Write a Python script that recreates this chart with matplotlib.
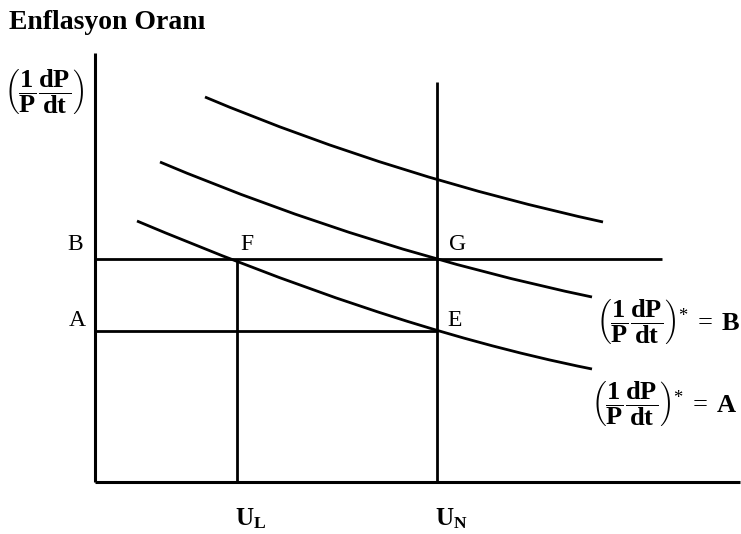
import matplotlib
matplotlib.use("Agg")
import matplotlib.pyplot as plt
from matplotlib.path import Path
from matplotlib.patches import PathPatch

plt.rcParams['mathtext.fontset'] = 'custom'
plt.rcParams['mathtext.rm'] = 'Liberation Serif'
plt.rcParams['mathtext.it'] = 'Liberation Serif:italic'
plt.rcParams['mathtext.bf'] = 'Liberation Serif:bold'
plt.rcParams['font.family'] = ['Liberation Serif', 'DejaVu Serif']

# diagram values (horizontal: unemployment, vertical: inflation)
u_L, u_N = 142, 342
infl_A, infl_B = 151, 223
y_top, x_right = 429, 645
u_N_top = 400
b_line_end = 567

# Phillips curves: end points and slopes at both ends
curve_start_x = [110, 65, 42]
curve_start_y = [385, 320, 261]
curve_end_x = [508, 497, 497]
curve_end_y = [260, 185, 113]
slope_start = [-0.42, -0.42, -0.42]
slope_end = [-0.22, -0.21, -0.20]

frac = r'\left(\dfrac{\mathbf{1}}{\mathbf{P}}\dfrac{\mathbf{dP}}{\mathbf{dt}}\right)'

fig = plt.figure(figsize=(7.41, 5.34), dpi=100)
ax = fig.add_axes([0, 0, 1, 1])
ax.set_xlim(-95, 646)
ax.set_ylim(-52, 482)
ax.axis('off')

lw = 2.0
# axes
ax.plot([0, 0], [0, y_top], color='black', lw=2.2, solid_capstyle='butt')
ax.plot([0, x_right], [0, 0], color='black', lw=2.2, solid_capstyle='butt')

# guide lines
ax.plot([u_N, u_N], [0, u_N_top], color='black', lw=lw, solid_capstyle='butt')
ax.plot([u_L, u_L], [0, infl_B], color='black', lw=lw, solid_capstyle='butt')
ax.plot([0, b_line_end], [infl_B, infl_B], color='black', lw=lw, solid_capstyle='butt')
ax.plot([0, u_N], [infl_A, infl_A], color='black', lw=lw, solid_capstyle='butt')

# curves as cubic beziers
for x0, y0, x3, y3, s0, s3 in zip(curve_start_x, curve_start_y, curve_end_x,
                                  curve_end_y, slope_start, slope_end):
    h = (x3 - x0) / 3
    verts = [(x0, y0), (x0 + h, y0 + s0 * h), (x3 - h, y3 - s3 * h), (x3, y3)]
    codes = [Path.MOVETO, Path.CURVE4, Path.CURVE4, Path.CURVE4]
    ax.add_patch(PathPatch(Path(verts, codes), fill=False, edgecolor='black', lw=lw,
                           capstyle='butt'))

# texts
fig.text(0.012, 0.958, 'Enflasyon Oranı', fontsize=20, fontweight='bold',
         ha='left', va='center')
ax.text(-51, 390, '$' + frac + '$', fontsize=19, ha='center', va='center')

ax.text(-20, 237, 'B', fontsize=17, ha='center', va='center')
ax.text(-18, 161, 'A', fontsize=17, ha='center', va='center')
ax.text(u_L + 10, 237, 'F', fontsize=17, ha='center', va='center')
ax.text(u_N + 21, 237, 'G', fontsize=17, ha='center', va='center')
ax.text(u_N + 18, 161, 'E', fontsize=17, ha='center', va='center')

ax.text(u_L + 14, -37, r'$\mathbf{U}_{\mathbf{L}}$', fontsize=18, ha='center', va='center')
ax.text(u_N + 14, -37, r'$\mathbf{U}_{\mathbf{N}}$', fontsize=18, ha='center', va='center')

ax.text(573, 160, '$' + frac + r'^{*}\;=\;\mathbf{B}$', fontsize=19, ha='center', va='center')
ax.text(569, 79, '$' + frac + r'^{*}\;=\;\mathbf{A}$', fontsize=19, ha='center', va='center')

fig.savefig('out.png', dpi=100, facecolor='white')
